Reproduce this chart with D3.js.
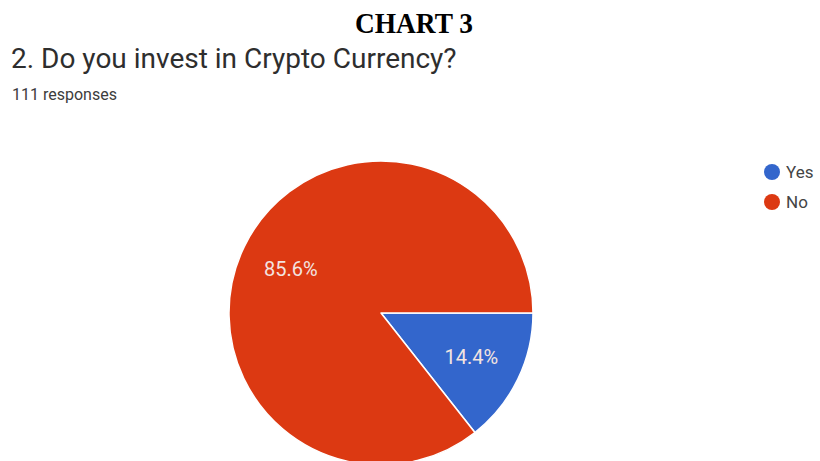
<!DOCTYPE html>
<html>
<head>
<meta charset="utf-8">
<script src="https://cdn.jsdelivr.net/npm/d3@7"></script>
<style>
  html, body { margin: 0; padding: 0; background: #fff; }
  svg { display: block; }
</style>
</head>
<body>
<svg id="chart" width="820" height="461"></svg>
<script>
// Survey answers for question 2
const categories = ["Yes", "No"];
const percentages = [14.4, 85.6];
const colors = ["#3366cc", "#dc3912"];
const responseCount = 111;

const svg = d3.select("#chart");
const sans = "Roboto, 'Open Sans', sans-serif";

// Heading
svg.append("text")
  .attr("x", 414).attr("y", 33)
  .attr("text-anchor", "middle")
  .attr("font-family", "'Liberation Serif', 'Times New Roman', serif")
  .attr("font-weight", "bold")
  .attr("font-size", 30)
  .attr("textLength", 118)
  .attr("lengthAdjust", "spacingAndGlyphs")
  .attr("fill", "#000")
  .text("CHART 3");

// Question title and response count
svg.append("text")
  .attr("x", 11).attr("y", 68)
  .attr("font-family", sans)
  .attr("font-size", 28)
  .attr("fill", "#2e2e2e")
  .text("2. Do you invest in Crypto Currency?");

svg.append("text")
  .attr("x", 12).attr("y", 100)
  .attr("font-family", sans)
  .attr("font-size", 16)
  .attr("fill", "#3c3c3c")
  .text(`${responseCount} responses`);

// Pie: first slice starts at 3 o'clock and runs clockwise
const cx = 381, cy = 313, r = 152;
const data = categories.map((c, i) => ({ name: c, value: percentages[i], color: colors[i] }));

const pie = d3.pie()
  .value(d => d.value)
  .sort(null)
  .startAngle(Math.PI / 2)
  .endAngle(Math.PI / 2 + 2 * Math.PI);

const arc = d3.arc().innerRadius(0).outerRadius(r);
const labelArc = d3.arc().innerRadius(r * 0.66).outerRadius(r * 0.66);

const g = svg.append("g").attr("transform", `translate(${cx},${cy})`);
const arcs = pie(data);

g.selectAll("path.slice")
  .data(arcs)
  .join("path")
  .attr("class", "slice")
  .attr("d", arc)
  .attr("fill", d => d.data.color)
  .attr("stroke", "#fff")
  .attr("stroke-width", 1.5)
  .attr("stroke-linejoin", "round");

g.selectAll("text.pct")
  .data(arcs)
  .join("text")
  .attr("class", "pct")
  .attr("transform", d => `translate(${labelArc.centroid(d)})`)
  .attr("text-anchor", "middle")
  .attr("dy", "0.35em")
  .attr("font-family", sans)
  .attr("font-size", 20)
  .attr("fill", "#f3e4e0")
  .text(d => d.data.value.toFixed(1) + "%");

// Legend
const legend = svg.append("g").attr("transform", "translate(772,172)");
const item = legend.selectAll("g.item")
  .data(data)
  .join("g")
  .attr("class", "item")
  .attr("transform", (d, i) => `translate(0,${i * 30})`);

item.append("circle")
  .attr("r", 8)
  .attr("fill", d => d.color);

item.append("text")
  .attr("x", 14).attr("dy", "0.36em")
  .attr("font-family", sans)
  .attr("font-size", 17)
  .attr("fill", "#444")
  .text(d => d.name);
</script>
</body>
</html>
